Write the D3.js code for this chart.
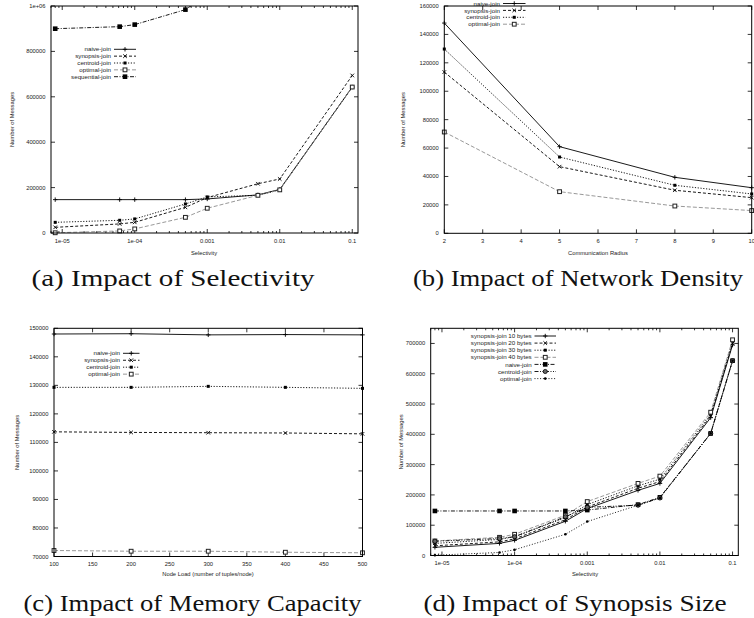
<!DOCTYPE html>
<html><head><meta charset="utf-8">
<script src="https://cdn.jsdelivr.net/npm/d3@7"></script>
<style>body{margin:0;background:#fff}svg{display:block}</style>
</head><body>
<svg id="c" width="754" height="618"></svg>
<script>
// ---------- DATA ----------
// (a) Impact of Selectivity
const aX = [8e-6, 6.2e-5, 1e-4, 5e-4, 1e-3, 5e-3, 1e-2, 1e-1];
const aNaive = [147000, 147000, 147000, 147000, 150000, 168000, 192000, 643000];
const aSynopsis = [25000, 40000, 47000, 113000, 156000, 217000, 238000, 694000];
const aCentroid = [47000, 56000, 62000, 128000, 159000, 166000, 190000, 643000];
const aOptimal = [1000, 9000, 18000, 69000, 109000, 166000, 190000, 643000];
const aSeqX = [8e-6, 6.2e-5, 1e-4, 5e-4, 1e-3];
const aSequential = [900000, 909000, 918000, 984000, 1050000];
const aYTicks = [0, 200000, 400000, 600000, 800000, 1000000];

// (b) Impact of Network Density
const bX = [2, 5, 8, 10];
const bNaive = [148000, 61000, 39400, 32100];
const bSynopsis = [113500, 46900, 30300, 25100];
const bCentroid = [129700, 53700, 33800, 27700];
const bOptimal = [71300, 29300, 19200, 16000];
const bXTicks = [2, 3, 4, 5, 6, 7, 8, 9, 10];
const bYTicks = [0, 20000, 40000, 60000, 80000, 100000, 120000, 140000, 160000];

// (c) Impact of Memory Capacity
const cX = [100, 200, 300, 400, 500];
const cNaive = [148000, 148100, 147700, 147800, 147700];
const cSynopsis = [113700, 113500, 113400, 113300, 113000];
const cCentroid = [129300, 129300, 129650, 129300, 128950];
const cOptimal = [72100, 71850, 71850, 71500, 71300];
const cXTicks = [100, 150, 200, 250, 300, 350, 400, 450, 500];
const cYTicks = [70000, 80000, 90000, 100000, 110000, 120000, 130000, 140000, 150000];

// (d) Impact of Synopsis Size
const dX = [8e-6, 6.2e-5, 1e-4, 5e-4, 1e-3, 5e-3, 1e-2, 5e-2, 1e-1];
const dSyn10 = [27000, 40000, 50000, 113000, 155000, 215000, 238000, 455000, 695000];
const dSyn20 = [32000, 45000, 55000, 118000, 160000, 222000, 244000, 460000, 700000];
const dSyn30 = [40000, 53000, 62000, 125000, 168000, 230000, 252000, 466000, 705000];
const dSyn40 = [48000, 60000, 70000, 133000, 178000, 238000, 262000, 473000, 712000];
const dNaive = [147000, 147000, 147000, 147000, 150000, 168000, 192000, 403000, 643000];
const dCentroid = [47000, 56000, 62000, 128000, 159000, 166000, 190000, 403000, 643000];
const dOptimal = [1000, 10000, 19000, 70000, 112000, 166000, 190000, 403000, 643000];
const dYTicks = [0, 100000, 200000, 300000, 400000, 500000, 600000, 700000];

const logTicks = [1e-5, 1e-4, 1e-3, 1e-2, 1e-1];
const logLabels = ["1e-05", "1e-04", "0.001", "0.01", "0.1"];

// ---------- STYLES ----------
const ST = {
  lt1: {dash: null, color: "#000", pt: "plus"},
  lt2: {dash: "3,2", color: "#000", pt: "cross"},
  lt3: {dash: "1.2,1.6", color: "#000", pt: "star"},
  lt4: {dash: "4,2", color: "#8c8c8c", pt: "osq"},
  lt5: {dash: "4,1.5,1,1.5", color: "#000", pt: "fsq"},
  lt6: {dash: "4,1.5,1,1.5,1,1.5", color: "#000", pt: "ocirc"},
  lt7: {dash: "1,1.8", color: "#000", pt: "fcirc"}
};
const FONT = "'Liberation Sans', Arial, Helvetica, sans-serif";
const svg = d3.select("#c");
svg.append("rect").attr("width", 754).attr("height", 618).attr("fill", "#fff");

function marker(g, type, x, y, color) {
  const s = 2.2;
  if (type === "plus") {
    g.append("path").attr("d", `M${x-s},${y}H${x+s}M${x},${y-s}V${y+s}`).attr("stroke", color).attr("stroke-width", 0.9).attr("fill", "none");
  } else if (type === "cross") {
    g.append("path").attr("d", `M${x-1.8},${y-1.8}L${x+1.8},${y+1.8}M${x-1.8},${y+1.8}L${x+1.8},${y-1.8}`).attr("stroke", color).attr("stroke-width", 0.9).attr("fill", "none");
  } else if (type === "star") {
    g.append("rect").attr("x", x-1.5).attr("y", y-1.5).attr("width", 3).attr("height", 3).attr("fill", color);
  } else if (type === "osq") {
    g.append("rect").attr("x", x-1.9).attr("y", y-1.9).attr("width", 3.8).attr("height", 3.8).attr("fill", "#fff").attr("stroke", "#222").attr("stroke-width", 1);
  } else if (type === "fsq") {
    g.append("rect").attr("x", x-2.3).attr("y", y-2.3).attr("width", 4.6).attr("height", 4.6).attr("fill", "#000");
  } else if (type === "ocirc") {
    g.append("circle").attr("cx", x).attr("cy", y).attr("r", 2.1).attr("fill", "#666").attr("stroke", "#000").attr("stroke-width", 0.8);
  } else if (type === "fcirc") {
    g.append("circle").attr("cx", x).attr("cy", y).attr("r", 1.3).attr("fill", "#000");
  }
}

let clipId = 0;
function panel(cfg) {
  const g = svg.append("g");
  const x = cfg.log ? d3.scaleLog().domain(cfg.xDomain).range([cfg.l, cfg.r])
                    : d3.scaleLinear().domain(cfg.xDomain).range([cfg.l, cfg.r]);
  const y = d3.scaleLinear().domain(cfg.yDomain).range([cfg.b, cfg.t]);
  const id = "clip" + (clipId++);
  g.append("clipPath").attr("id", id).append("rect")
    .attr("x", cfg.l).attr("y", cfg.t).attr("width", cfg.r - cfg.l).attr("height", cfg.b - cfg.t);

  const tk = g.append("g").attr("stroke", "#000").attr("stroke-width", 0.8);
  const major = 4, minor = 2;
  cfg.xTicks.forEach(v => {
    const px = x(v);
    tk.append("line").attr("x1", px).attr("x2", px).attr("y1", cfg.b).attr("y2", cfg.b - major);
    tk.append("line").attr("x1", px).attr("x2", px).attr("y1", cfg.t).attr("y2", cfg.t + major);
  });
  if (cfg.log) {
    const d0 = Math.floor(Math.log10(cfg.xDomain[0])), d1 = Math.ceil(Math.log10(cfg.xDomain[1]));
    for (let e = d0; e <= d1; e++) for (let k = 2; k <= 9; k++) {
      const v = k * Math.pow(10, e);
      if (v < cfg.xDomain[0] || v > cfg.xDomain[1]) continue;
      const px = x(v);
      tk.append("line").attr("x1", px).attr("x2", px).attr("y1", cfg.b).attr("y2", cfg.b - minor);
      tk.append("line").attr("x1", px).attr("x2", px).attr("y1", cfg.t).attr("y2", cfg.t + minor);
    }
  }
  cfg.yTicks.forEach(v => {
    const py = y(v);
    tk.append("line").attr("x1", cfg.l).attr("x2", cfg.l + major).attr("y1", py).attr("y2", py);
    tk.append("line").attr("x1", cfg.r).attr("x2", cfg.r - major).attr("y1", py).attr("y2", py);
  });

  const lab = g.append("g").attr("font-family", FONT).attr("font-size", 5.8).attr("fill", "#222");
  cfg.xTicks.forEach((v, i) => {
    lab.append("text").attr("x", x(v)).attr("y", cfg.b + 9.6).attr("text-anchor", "middle").text(cfg.xLabels[i]);
  });
  cfg.yTicks.forEach((v, i) => {
    lab.append("text").attr("x", cfg.l - 5.5).attr("y", y(v) + 2).attr("text-anchor", "end").text(cfg.yLabels[i]);
  });
  lab.append("text").attr("x", cfg.xlabX).attr("y", cfg.xlabY).attr("text-anchor", "middle").text(cfg.xlabel);
  lab.append("text").attr("transform", `translate(${cfg.ylabX},${(cfg.t + cfg.b) / 2}) rotate(-90)`)
    .attr("text-anchor", "middle").attr("dy", "0.35em").text("Number of Messages");

  const line = d3.line().x(d => x(d[0])).y(d => y(d[1]));
  cfg.series.forEach(s => {
    const st = ST[s.style];
    const pts = s.xs.map((v, i) => [v, s.ys[i]]);
    const p = g.append("path").datum(pts).attr("d", line).attr("fill", "none")
      .attr("stroke", st.color).attr("stroke-width", 0.9).attr("clip-path", `url(#${id})`);
    if (st.dash) p.attr("stroke-dasharray", st.dash);
    pts.forEach(d => {
      if (d[1] > cfg.yDomain[1]) return;
      marker(g, st.pt, x(d[0]), y(d[1]), st.color);
    });
  });

  g.append("rect").attr("x", cfg.l).attr("y", cfg.t).attr("width", cfg.r - cfg.l).attr("height", cfg.b - cfg.t)
    .attr("fill", "none").attr("stroke", "#000").attr("stroke-width", 1);

  const lg = cfg.legend;
  cfg.series.forEach((s, i) => {
    const st = ST[s.style];
    const ly = lg.y0 + i * lg.step;
    g.append("text").attr("x", lg.tx).attr("y", ly).attr("dy", "0.35em").attr("text-anchor", "end")
      .attr("font-family", FONT).attr("font-size", 6.2).attr("fill", "#222").text(s.name);
    const p = g.append("line").attr("x1", lg.x1).attr("x2", lg.x2).attr("y1", ly).attr("y2", ly)
      .attr("stroke", st.color).attr("stroke-width", 0.9);
    if (st.dash) p.attr("stroke-dasharray", st.dash);
    marker(g, st.pt, (lg.x1 + lg.x2) / 2, ly, st.color);
  });

  svg.append("text").attr("x", cfg.cap.x).attr("y", cfg.cap.y).attr("text-anchor", "middle")
    .attr("font-family", "'Liberation Serif', 'Times New Roman', serif").attr("font-size", 24)
    .attr("textLength", cfg.cap.w).attr("lengthAdjust", "spacingAndGlyphs").attr("fill", "#111")
    .text(cfg.cap.text);
}

const fmtA = v => v === 1000000 ? "1e+06" : String(v);

panel({
  l: 51, r: 358, t: 6, b: 233, log: true, xDomain: [7e-6, 0.12], yDomain: [0, 1000000],
  xTicks: logTicks, xLabels: logLabels, yTicks: aYTicks, yLabels: aYTicks.map(fmtA),
  xlabel: "Selectivity", xlabX: 204, xlabY: 254.5, ylabX: 11.5,
  series: [
    {name: "naive-join", xs: aX, ys: aNaive, style: "lt1"},
    {name: "synopsis-join", xs: aX, ys: aSynopsis, style: "lt2"},
    {name: "centroid-join", xs: aX, ys: aCentroid, style: "lt3"},
    {name: "optimal-join", xs: aX, ys: aOptimal, style: "lt4"},
    {name: "sequential-join", xs: aSeqX, ys: aSequential, style: "lt5"}
  ],
  legend: {tx: 111, x1: 114, x2: 136, y0: 49.3, step: 6.85},
  cap: {text: "(a) Impact of Selectivity", x: 173, y: 285.5, w: 283}
});

panel({
  l: 444.3, r: 751.7, t: 6, b: 233.3, log: false, xDomain: [2, 10], yDomain: [0, 160000],
  xTicks: bXTicks, xLabels: bXTicks.map(String), yTicks: bYTicks, yLabels: bYTicks.map(String),
  xlabel: "Communication Radius", xlabX: 598, xlabY: 254.5, ylabX: 402.7,
  series: [
    {name: "naive-join", xs: bX, ys: bNaive, style: "lt1"},
    {name: "synopsis-join", xs: bX, ys: bSynopsis, style: "lt2"},
    {name: "centroid-join", xs: bX, ys: bCentroid, style: "lt3"},
    {name: "optimal-join", xs: bX, ys: bOptimal, style: "lt4"}
  ],
  legend: {tx: 500, x1: 503, x2: 525.5, y0: 3.5, step: 6.9},
  cap: {text: "(b) Impact of Network Density", x: 578, y: 285.5, w: 330}
});

panel({
  l: 54, r: 362.5, t: 328.3, b: 556.5, log: false, xDomain: [100, 500], yDomain: [70000, 150000],
  xTicks: cXTicks, xLabels: cXTicks.map(String), yTicks: cYTicks, yLabels: cYTicks.map(String),
  xlabel: "Node Load (number of tuples/node)", xlabX: 208, xlabY: 575.5, ylabX: 17.3,
  series: [
    {name: "naive-join", xs: cX, ys: cNaive, style: "lt1"},
    {name: "synopsis-join", xs: cX, ys: cSynopsis, style: "lt2"},
    {name: "centroid-join", xs: cX, ys: cCentroid, style: "lt3"},
    {name: "optimal-join", xs: cX, ys: cOptimal, style: "lt4"}
  ],
  legend: {tx: 120, x1: 123, x2: 139.5, y0: 353.3, step: 6.95},
  cap: {text: "(c) Impact of Memory Capacity", x: 192.5, y: 610.5, w: 338}
});

panel({
  l: 430.7, r: 738.3, t: 328.3, b: 555.5, log: true, xDomain: [7e-6, 0.12], yDomain: [0, 750000],
  xTicks: logTicks, xLabels: logLabels, yTicks: dYTicks, yLabels: dYTicks.map(String),
  xlabel: "Selectivity", xlabX: 585, xlabY: 576, ylabX: 400.7,
  series: [
    {name: "synopsis-join 10 bytes", xs: dX, ys: dSyn10, style: "lt1"},
    {name: "synopsis-join 20 bytes", xs: dX, ys: dSyn20, style: "lt2"},
    {name: "synopsis-join 30 bytes", xs: dX, ys: dSyn30, style: "lt3"},
    {name: "synopsis-join 40 bytes", xs: dX, ys: dSyn40, style: "lt4"},
    {name: "naive-join", xs: dX, ys: dNaive, style: "lt5"},
    {name: "centroid-join", xs: dX, ys: dCentroid, style: "lt6"},
    {name: "optimal-join", xs: dX, ys: dOptimal, style: "lt7"}
  ],
  legend: {tx: 531.7, x1: 534.5, x2: 556, y0: 336, step: 7.1},
  cap: {text: "(d) Impact of Synopsis Size", x: 575, y: 610.5, w: 303}
});
</script>
</body></html>
